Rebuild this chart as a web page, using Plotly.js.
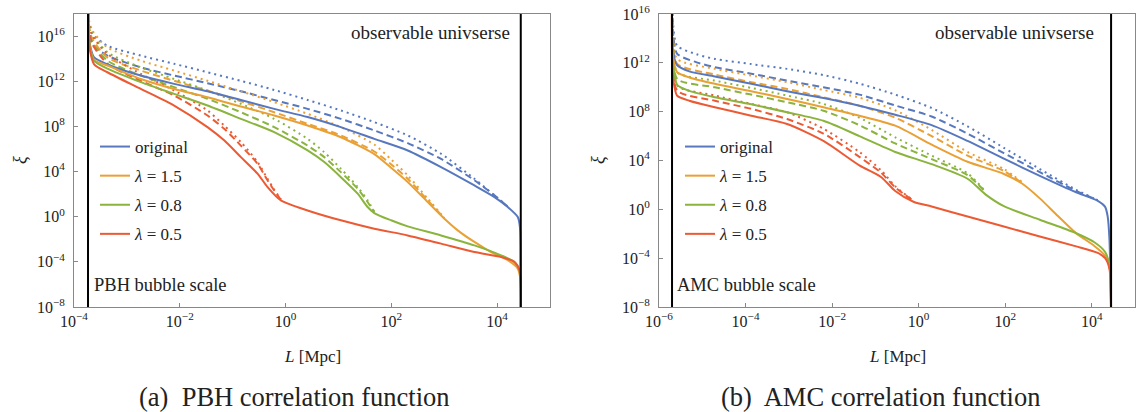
<!DOCTYPE html>
<html>
<head>
<meta charset="utf-8">
<script src="https://cdn.plot.ly/plotly-3.0.1.min.js"></script>
<style>html,body{margin:0;padding:0;background:#fff;}#chart{width:1137px;height:412px;}</style>
</head>
<body>
<div id="chart"></div>
<script>
// ---------- data ----------
const seriesNames = ['original', '<i>λ</i> = 1.5', '<i>λ</i> = 0.8', '<i>λ</i> = 0.5'];
const pbhBubbleScale = 1.84e-4;   // Mpc
const amcBubbleScale = 2.0e-6;    // Mpc
const observableUniverse = 2.8e4; // Mpc
const vlineXi = [1e-9, 1e19];

const xTickVals_pbh = [1e-4, 1e-2, 1, 1e2, 1e4];
const xTickText_pbh = ['10<sup>−4</sup>', '10<sup>−2</sup>', '10<sup>0</sup>', '10<sup>2</sup>', '10<sup>4</sup>'];
const xTickVals_amc = [1e-6, 1e-4, 1e-2, 1, 1e2, 1e4];
const xTickText_amc = ['10<sup>−6</sup>', '10<sup>−4</sup>', '10<sup>−2</sup>', '10<sup>0</sup>', '10<sup>2</sup>', '10<sup>4</sup>'];
const yTickVals = [1e-8, 1e-4, 1, 1e4, 1e8, 1e12, 1e16];
const yTickText = ['10<sup>−8</sup>', '10<sup>−4</sup>', '10<sup>0</sup>', '10<sup>4</sup>', '10<sup>8</sup>', '10<sup>12</sup>', '10<sup>16</sup>'];

// PBH panel: original
const pbhL_orig = [1.84e-4, 1.90e-4, 2.01e-4, 2.40e-4, 4.28e-4, 8.83e-4, 1.83e-3, 7.82e-3, 3.34e-2, 0.143, 0.610, 2.61, 11.1, 47.6, 204, 871, 3720, 8910, 15900, 24600, 27000, 27700, 28000];
const pbhXi_orig = [1e19, 3.2e16, 1.6e15, 1.3e14, 3.2e13, 8.9e12, 3.2e12, 5.9e11, 1.3e11, 2.2e10, 3.6e9, 6.8e8, 8.7e7, 7.9e6, 7.4e5, 2.5e4, 590, 55, 7.2, 0.93, 0.12, 2e-3, 1e-9];
const pbhLv_orig = [1.84e-4, 1.90e-4, 2.22e-4, 4.28e-4, 1.83e-3, 7.82e-3, 3.34e-2, 0.143, 0.610, 2.61, 11.1, 47.6, 204, 871, 3720, 8910, 15900];
const pbhXiDash_orig = [1e19, 1e17, 2e15, 1.9e14, 1.7e13, 3.2e12, 6.8e11, 1.3e11, 2.2e10, 3.6e9, 4.7e8, 4.4e7, 3.3e6, 1.3e5, 1.7e3, 78, 7.9];
const pbhXiDot_orig = [1e19, 3.2e17, 1.6e16, 1.4e15, 1.9e14, 3.5e13, 6.3e12, 1.1e12, 1.7e11, 2.2e10, 2.6e9, 2.4e8, 1.6e7, 3.8e5, 2.3e3, 78, 7.9];

// PBH panel: lambda = 1.5
const pbhL_15 = [1.84e-4, 1.90e-4, 2.01e-4, 2.40e-4, 4.28e-4, 1.83e-3, 7.82e-3, 3.34e-2, 0.143, 0.610, 2.61, 11.1, 47.6, 98.6, 204, 488, 1010, 1800, 3720, 7690, 15900, 24600, 27700, 28000];
const pbhXi_15 = [1e19, 2e16, 1e15, 7.9e13, 2.5e13, 1.6e12, 2.1e11, 3.9e10, 5.8e9, 9.3e8, 1.2e8, 1.1e7, 3.5e5, 2.2e4, 1.2e3, 20, 0.66, 6.2e-2, 5.8e-3, 7.4e-4, 1.4e-4, 2.5e-5, 2.3e-6, 1e-9];
const pbhLv_15 = [1.84e-4, 1.90e-4, 2.22e-4, 4.28e-4, 1.83e-3, 7.82e-3, 3.34e-2, 0.143, 0.610, 2.61, 11.1, 47.6, 98.6, 204, 488, 1010];
const pbhXiDash_15 = [1e19, 1e17, 5.6e15, 1.3e14, 8.9e12, 1.1e12, 1.5e11, 1.7e10, 1.8e9, 1.7e8, 1.6e7, 6e5, 4.5e4, 2.3e3, 28, 0.71];
const pbhXiDot_15 = [1e19, 3.2e17, 3.2e16, 1e15, 6.8e13, 8.9e12, 1.1e12, 1.3e11, 1.4e10, 1.3e9, 8.7e7, 2.5e6, 1.2e5, 4.6e3, 40, 0.76];

// PBH panel: lambda = 0.8
const pbhL_08 = [1.84e-4, 1.90e-4, 2.01e-4, 2.40e-4, 4.28e-4, 1.83e-3, 7.82e-3, 3.34e-2, 0.143, 0.610, 2.61, 5.40, 11.1, 23.1, 35.6, 47.6, 98.6, 204, 871, 3720, 11900, 21300, 26500, 28000];
const pbhXi_08 = [1e19, 1.6e16, 7.9e14, 6.3e13, 1.3e13, 8.3e11, 7.6e10, 7.1e9, 4.7e8, 3.1e7, 7.4e5, 6.9e4, 3.2e3, 110, 7.2, 2.1, 0.48, 0.14, 2.2e-2, 2.9e-3, 3.8e-4, 9.8e-5, 1.8e-5, 1e-9];
const pbhLv_08 = [1.84e-4, 1.90e-4, 2.22e-4, 4.28e-4, 1.83e-3, 7.82e-3, 3.34e-2, 0.143, 0.610, 2.61, 5.40, 11.1, 23.1, 35.6, 47.6];
const pbhXiDash_08 = [1e19, 6.3e16, 2.9e15, 6.8e13, 3.2e12, 3.0e11, 2.8e10, 1.8e9, 8.7e7, 2.0e6, 1.9e5, 8.9e3, 300, 20, 2.5];
const pbhXiDot_08 = [1e19, 2e17, 1.6e16, 3.7e14, 1.7e13, 1.6e12, 1.5e11, 1e10, 4.7e8, 7.9e6, 5.2e5, 1.8e4, 430, 28, 2.8];

// PBH panel: lambda = 0.5
const pbhL_05 = [1.84e-4, 1.90e-4, 2.01e-4, 2.40e-4, 4.28e-4, 1.83e-3, 7.82e-3, 3.34e-2, 6.90e-2, 0.143, 0.295, 0.456, 0.817, 2.61, 11.1, 47.6, 204, 871, 3720, 11900, 21300, 26500, 28000];
const pbhXi_05 = [1e19, 1e16, 5e14, 3.2e13, 6.3e12, 2.1e11, 7.1e9, 8.7e7, 5.8e6, 1.9e5, 6.5e3, 430, 28, 3.6, 0.48, 8.7e-2, 2.2e-2, 4.1e-3, 7.4e-4, 2.7e-4, 9.8e-5, 1.8e-5, 1e-9];
const pbhLv_05 = [1.84e-4, 1.90e-4, 2.22e-4, 4.28e-4, 1.83e-3, 7.82e-3, 3.34e-2, 6.90e-2, 0.143, 0.295, 0.456, 0.610, 0.817];
const pbhXiDash_05 = [1e19, 5e16, 2e15, 3.5e13, 1.1e12, 5.5e10, 9.3e8, 6.2e7, 2.0e6, 4.9e4, 1.7e3, 210, 32];
const pbhXiDot_05 = [1e19, 1.6e17, 1.1e16, 2.6e14, 4.5e12, 1.5e11, 2.6e9, 1.2e8, 4.1e6, 6.9e4, 2.3e3, 250, 35];

// AMC panel: original
const amcL_orig = [2.0e-6, 2.04e-6, 2.29e-6, 2.63e-6, 5.01e-6, 1.95e-5, 1.35e-4, 9.12e-4, 6.31e-3, 4.27e-2, 0.288, 2.0, 13.5, 93.3, 631, 4370, 13800, 20400, 23400, 25700, 28000];
const amcXi_orig = [3.2e17, 3.2e13, 2.0e12, 6.3e11, 2.0e11, 7.6e10, 1.9e10, 4.7e9, 1.3e9, 3.1e8, 5.6e7, 7.9e6, 4e5, 1.4e4, 560, 25, 5.0, 1.6, 0.25, 3.2e-3, 1e-9];
const amcLv_orig = [2.0e-6, 2.11e-6, 2.63e-6, 7.41e-6, 1.95e-5, 1.35e-4, 9.12e-4, 6.31e-3, 4.27e-2, 0.288, 2.0, 13.5, 93.3, 631, 4370, 13800];
const amcXiDash_orig = [3.2e17, 3.2e14, 5.5e12, 1.1e12, 4.4e11, 1.3e11, 3.5e10, 1e10, 2.5e9, 3.2e8, 4e7, 1.6e6, 4e4, 1.1e3, 32, 5.6];
const amcXiDot_orig = [3.2e17, 1.6e15, 2.5e13, 5e12, 2.1e12, 7.9e11, 3.2e11, 1e11, 2e10, 2.5e9, 2e8, 6.3e6, 1.1e5, 2e3, 40, 5.6];

// AMC panel: lambda = 1.5
const amcL_15 = [2.0e-6, 2.04e-6, 2.29e-6, 2.63e-6, 5.01e-6, 1.95e-5, 1.35e-4, 9.12e-4, 6.31e-3, 4.27e-2, 0.288, 2.0, 13.5, 93.3, 245, 631, 1660, 4370, 11500, 20400, 25700, 28000];
const amcXi_15 = [3.2e17, 1e13, 6.3e11, 1.7e11, 6.3e10, 1.9e10, 4.7e9, 1.1e9, 2.3e8, 4.7e7, 7.1e6, 2e5, 7.9e3, 790, 130, 7.9, 0.28, 1.1e-2, 1e-3, 1.6e-4, 2.2e-5, 1e-9];
const amcLv_15 = [2.0e-6, 2.11e-6, 2.63e-6, 1.95e-5, 1.35e-4, 9.12e-4, 6.31e-3, 4.27e-2, 0.288, 2.0, 13.5, 93.3, 245];
const amcXiDash_15 = [3.2e17, 1e14, 8.3e11, 1.1e11, 2.6e10, 7.2e9, 1.5e9, 3.1e8, 3.2e7, 1e6, 2.5e4, 1.4e3, 150];
const amcXiDot_15 = [3.2e17, 4e14, 2.1e12, 3.2e11, 9.1e10, 2.6e10, 6e9, 1.4e9, 1.3e8, 3.2e6, 5e4, 2e3, 170];

// AMC panel: lambda = 0.8
const amcL_08 = [2.0e-6, 2.04e-6, 2.29e-6, 2.63e-6, 5.01e-6, 1.95e-5, 1.35e-4, 9.12e-4, 6.31e-3, 4.27e-2, 0.288, 2.0, 13.5, 35.5, 93.3, 631, 4370, 11500, 20400, 25700, 28000];
const amcXi_08 = [3.2e17, 3.2e12, 1e11, 1.6e10, 5e9, 1.5e9, 4e8, 8.9e7, 1.8e7, 1e6, 5e4, 5e3, 320, 16, 1.8, 0.14, 1.1e-2, 2e-3, 3.2e-4, 2.5e-5, 1e-9];
const amcLv_08 = [2.0e-6, 2.11e-6, 2.63e-6, 1.95e-5, 1.35e-4, 9.12e-4, 6.31e-3, 4.27e-2, 0.288, 2.0, 13.5, 35.5];
const amcXiDash_08 = [3.2e17, 3.2e13, 4.8e10, 1e10, 2.5e9, 5.9e8, 1.2e8, 7.9e6, 2.5e5, 1.3e4, 630, 25];
const amcXiDot_08 = [3.2e17, 1e14, 1.7e11, 3.5e10, 8.9e9, 2.1e9, 4.3e8, 3.2e7, 7.9e5, 2.5e4, 890, 28];

// AMC panel: lambda = 0.5
const amcL_05 = [2.0e-6, 2.04e-6, 2.29e-6, 2.63e-6, 5.01e-6, 1.95e-5, 1.35e-4, 9.12e-4, 6.31e-3, 4.27e-2, 0.135, 0.288, 0.759, 2.0, 13.5, 93.3, 631, 4370, 13800, 20400, 25700, 28000];
const amcXi_05 = [3.2e17, 2e11, 1e10, 2e9, 7.9e8, 2.3e8, 4.7e7, 9.8e6, 4e5, 4e3, 450, 32, 4.2, 1.7, 0.26, 3.9e-2, 6e-3, 9.3e-4, 2.7e-4, 1e-4, 1.3e-5, 1e-9];
const amcLv_05 = [2.0e-6, 2.11e-6, 2.63e-6, 1.95e-5, 1.35e-4, 9.12e-4, 6.31e-3, 4.27e-2, 0.135, 0.288, 0.759];
const amcXiDash_05 = [3.2e17, 6.3e12, 5.4e9, 7.9e8, 1.7e8, 2.5e7, 1.6e6, 2e4, 1e3, 63, 5];
const amcXiDot_05 = [3.2e17, 2e13, 1.4e10, 2.1e9, 4.3e8, 8.9e7, 4e6, 5e4, 1.6e3, 79, 5.2];

// ---------- style ----------
const COLORS = ['#5778BE', '#E9A035', '#8AB43D', '#EC5A34'];
const FONT = '"Liberation Serif", "DejaVu Serif", serif';
const W = 1137, H = 412;

const panels = [
  {ax: 'x', ay: 'y', leg: 'legend', key: 'a', sets: [
    [pbhL_orig, pbhXi_orig, pbhLv_orig, pbhXiDash_orig, pbhXiDot_orig],
    [pbhL_15, pbhXi_15, pbhLv_15, pbhXiDash_15, pbhXiDot_15],
    [pbhL_08, pbhXi_08, pbhLv_08, pbhXiDash_08, pbhXiDot_08],
    [pbhL_05, pbhXi_05, pbhLv_05, pbhXiDash_05, pbhXiDot_05]], bubble: pbhBubbleScale},
  {ax: 'x2', ay: 'y2', leg: 'legend2', key: 'b', sets: [
    [amcL_orig, amcXi_orig, amcLv_orig, amcXiDash_orig, amcXiDot_orig],
    [amcL_15, amcXi_15, amcLv_15, amcXiDash_15, amcXiDot_15],
    [amcL_08, amcXi_08, amcLv_08, amcXiDash_08, amcXiDot_08],
    [amcL_05, amcXi_05, amcLv_05, amcXiDash_05, amcXiDot_05]], bubble: amcBubbleScale}
];

const traces = [];
panels.forEach(p => {
  p.sets.forEach((s, i) => {
    const grp = p.key + i;
    traces.push({type: 'scatter', mode: 'lines', x: s[2], y: s[4], xaxis: p.ax, yaxis: p.ay,
      line: {color: COLORS[i], width: 2, dash: '2px,4px', shape: 'spline', smoothing: 0.7},
      showlegend: false, legendgroup: grp, legend: p.leg, hoverinfo: 'skip'});
    traces.push({type: 'scatter', mode: 'lines', x: s[2], y: s[3], xaxis: p.ax, yaxis: p.ay,
      line: {color: COLORS[i], width: 2, dash: '7px,4px', shape: 'spline', smoothing: 0.7},
      showlegend: false, legendgroup: grp, legend: p.leg, hoverinfo: 'skip'});
  });
  p.sets.forEach((s, i) => {
    const grp = p.key + i;
    traces.push({type: 'scatter', mode: 'lines', x: s[0], y: s[1], xaxis: p.ax, yaxis: p.ay,
      line: {color: COLORS[i], width: 2, shape: 'spline', smoothing: 0.7},
      name: seriesNames[i], showlegend: true, legendgroup: grp, legend: p.leg, hoverinfo: 'skip'});
  });
  [p.bubble, observableUniverse].forEach(xv => {
    traces.push({type: 'scatter', mode: 'lines', x: [xv, xv], y: vlineXi, xaxis: p.ax, yaxis: p.ay,
      line: {color: '#000', width: 2}, showlegend: false, hoverinfo: 'skip'});
  });
});

function xAxis(domain, range, vals, text, anchor) {
  return {type: 'log', domain: domain, range: range, anchor: anchor, tickvals: vals, ticktext: text,
    ticks: 'inside', ticklen: 4, tickwidth: 1, tickcolor: '#888', showline: true, mirror: true,
    linecolor: '#888', linewidth: 1, showgrid: false, zeroline: false,
    tickfont: {family: FONT, size: 16, color: '#222'}, fixedrange: true};
}
function yAxis(domain, range, anchor) {
  return {type: 'log', domain: domain, range: range, anchor: anchor, tickvals: yTickVals, ticktext: yTickText,
    ticks: 'inside', ticklen: 4, tickwidth: 1, tickcolor: '#888', showline: true, mirror: true,
    linecolor: '#888', linewidth: 1, showgrid: false, zeroline: false, ticklabelstandoff: 5,
    tickfont: {family: FONT, size: 16, color: '#222'}, fixedrange: true};
}

const yDom = [1 - 307 / H, 1 - 14 / H];
const legendBase = {xanchor: 'left', yanchor: 'top', bgcolor: 'rgba(0,0,0,0)', borderwidth: 0,
  font: {family: FONT, size: 17, color: '#222'}, tracegroupgap: 4, itemwidth: 30};

function ann(text, x, y, xanchor, size, extra) {
  return Object.assign({text: text, x: x, y: y, xref: 'paper', yref: 'paper', xanchor: xanchor, yanchor: 'middle',
    showarrow: false, font: {family: FONT, size: size, color: '#222'}}, extra || {});
}

const layout = {
  width: W, height: H, margin: {l: 0, r: 0, t: 0, b: 0},
  paper_bgcolor: '#fff', plot_bgcolor: '#fff', showlegend: true,
  font: {family: FONT},
  xaxis: xAxis([74 / W, 550 / W], [-4, 5], xTickVals_pbh, xTickText_pbh, 'y'),
  yaxis: yAxis(yDom, [-8, 17.96], 'x'),
  xaxis2: xAxis([659 / W, 1135 / W], [-6, 5], xTickVals_amc, xTickText_amc, 'y2'),
  yaxis2: yAxis(yDom, [-8, 16], 'x2'),
  legend: Object.assign({x: 95 / W, y: 1 - 129 / H}, legendBase),
  legend2: Object.assign({x: 680 / W, y: 1 - 129 / H}, legendBase),
  annotations: [
    ann('observable univserse', 512 / W, 1 - 33 / H, 'right', 19),
    ann('observable univserse', 1096 / W, 1 - 33 / H, 'right', 19),
    ann('PBH bubble scale', 92 / W, 1 - 285 / H, 'left', 18.5),
    ann('AMC bubble scale', 675 / W, 1 - 285 / H, 'left', 18.5),
    ann('<i>L</i> [Mpc]', 312 / W, 1 - 356 / H, 'center', 17),
    ann('<i>L</i> [Mpc]', 897 / W, 1 - 356 / H, 'center', 17),
    ann('<i>ξ</i>', 20 / W, 1 - 160 / H, 'center', 18, {textangle: -90}),
    ann('<i>ξ</i>', 598 / W, 1 - 160 / H, 'center', 18, {textangle: -90}),
    ann('(a)  PBH correlation function', 294 / W, 1 - 397 / H, 'center', 26.5),
    ann('(b)  AMC correlation function', 880 / W, 1 - 397 / H, 'center', 26.5)
  ]
};

Plotly.newPlot('chart', traces, layout, {staticPlot: true, displayModeBar: false});
</script>
</body>
</html>
